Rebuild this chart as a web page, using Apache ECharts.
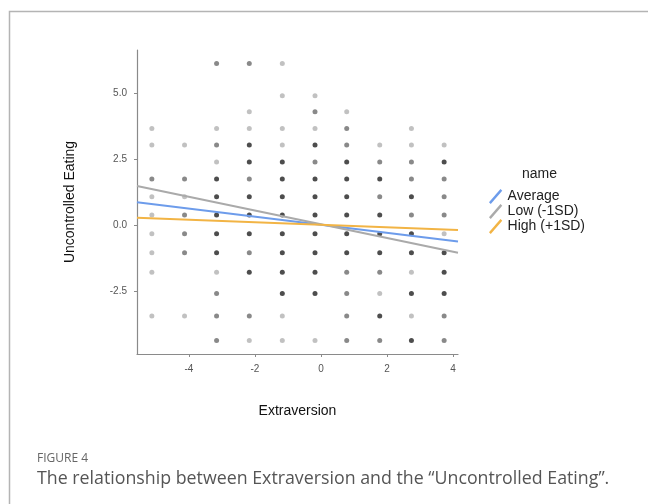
<!DOCTYPE html>
<html><head><meta charset="utf-8">
<script src="https://cdn.jsdelivr.net/npm/echarts@6/dist/echarts.min.js"></script>
<style>html,body{margin:0;padding:0;background:#fff}#c{width:648px;height:504px}</style>
</head><body><div id="c"></div>
<script>
// Extraversion values of the point columns
const colX = [-5.12, -4.13, -3.16, -2.17, -1.17, -0.18, 0.78, 1.78, 2.74, 3.73];
// Uncontrolled Eating values of the point rows (top to bottom)
const rowY = [6.12, 4.90, 4.29, 3.66, 3.03, 2.39, 1.74, 1.07, 0.38, -0.33, -1.05, -1.79, -2.60, -3.45, -4.38];
// overlap level of each point (0 = none, 1 light, 2 medium, 3 dark), rows x columns
const counts = [
  [0,0,2,2,1,0,0,0,0,0],
  [0,0,0,0,1,1,0,0,0,0],
  [0,0,0,1,0,2,1,0,0,0],
  [1,0,1,1,1,1,2,0,1,0],
  [1,1,2,3,1,3,2,1,1,1],
  [0,0,1,3,3,2,3,2,2,3],
  [2,2,3,2,3,3,3,3,2,2],
  [1,1,3,3,3,3,3,2,3,2],
  [1,2,3,3,3,3,3,3,2,2],
  [1,2,3,3,3,3,3,3,3,1],
  [1,2,3,2,3,3,3,3,3,3],
  [1,0,1,3,3,3,2,2,1,3],
  [0,0,2,0,3,3,2,1,3,3],
  [1,1,2,2,1,0,2,3,1,2],
  [0,0,2,1,1,1,2,2,3,2]
];
// regression lines
const lineX = [-5.57, 4.15];
const avgY = [0.86, -0.63];
const lowY = [1.48, -1.05];
const highY = [0.27, -0.19];
const seriesNames = ['Average', 'Low (-1SD)', 'High (+1SD)'];
const xTicks = [-4, -2, 0, 2, 4];
const yTicks = [-2.5, 0, 2.5, 5];

const pts = [];
counts.forEach((row, i) => row.forEach((c, j) => { if (c > 0) pts.push([colX[j], rowY[i], c]); }));
const alpha = {1: 0.3, 2: 0.58, 3: 0.87};
const mk = (ys) => lineX.map((x, k) => [x, ys[k]]);

const chart = echarts.init(document.getElementById('c'));
const axisCol = '#8a8a8a';
const font = '"Liberation Sans", Arial, sans-serif';
const colors = ['#6d9ceb', '#aaaaaa', '#f2b445'];
const diag = 'path://M0,15 L13,0 L15,2 L2,17 Z';
chart.setOption({
  animation: false,
  backgroundColor: '#fff',
  grid: {left: 137, right: 190, top: 50, bottom: 150, containLabel: false},
  xAxis: {
    type: 'value', min: -5.57, max: 4.15,
    name: 'Extraversion', nameLocation: 'middle', nameGap: 50,
    nameTextStyle: {fontFamily: font, fontSize: 14, color: '#111'},
    axisLine: {show: true, onZero: false, lineStyle: {color: axisCol, width: 1.2}},
    axisTick: {show: true, length: 3, lineStyle: {color: axisCol}, customValues: xTicks},
    axisLabel: {customValues: xTicks, fontFamily: font, fontSize: 10, color: '#555', margin: 10},
    splitLine: {show: false}
  },
  yAxis: {
    type: 'value', min: -4.89, max: 6.63,
    name: 'Uncontrolled Eating', nameLocation: 'middle', nameGap: 60,
    nameTextStyle: {fontFamily: font, fontSize: 14, color: '#111'},
    axisLine: {show: true, onZero: false, lineStyle: {color: axisCol, width: 1.2}},
    axisTick: {show: true, length: 3, lineStyle: {color: axisCol}, customValues: yTicks},
    axisLabel: {customValues: yTicks, fontFamily: font, fontSize: 10, color: '#555', margin: 10,
      formatter: v => v.toFixed(1)},
    splitLine: {show: false}
  },
  legend: {
    orient: 'vertical', left: 484, top: 184, itemWidth: 18, itemHeight: 15, itemGap: 0,
    data: seriesNames.map(n => ({name: n, icon: diag})),
    textStyle: {fontFamily: font, fontSize: 14, color: '#222', padding: [0,0,0,-2]}
  },
  graphic: [
    {type: 'rect', shape: {x: 9.5, y: 11.5, width: 700, height: 600}, style: {fill: 'none', stroke: '#b4b4b4', lineWidth: 1.5}, silent: true},
    {type: 'text', left: 522, top: 167, style: {text: 'name', font: '14px "Liberation Sans", Arial, sans-serif', fill: '#222'}},
    {type: 'text', left: 37, top: 453, style: {text: 'FIGURE 4', font: '12px "Open Sans", sans-serif', fill: '#666'}},
    {type: 'text', left: 37, top: 470, style: {text: 'The relationship between Extraversion and the \u201cUncontrolled Eating\u201d.', font: '17.8px "Open Sans", sans-serif', fill: '#555'}}
  ],
  series: [
    {type: 'scatter', name: 'points', data: pts, symbolSize: 5, z: 2,
      itemStyle: {color: p => 'rgba(0,0,0,' + alpha[p.data[2]] + ')'}},
    {type: 'line', name: seriesNames[0], data: mk(avgY), symbol: 'none', z: 3, color: colors[0], lineStyle: {width: 2, color: colors[0]}},
    {type: 'line', name: seriesNames[1], data: mk(lowY), symbol: 'none', z: 3, color: colors[1], lineStyle: {width: 2, color: colors[1]}},
    {type: 'line', name: seriesNames[2], data: mk(highY), symbol: 'none', z: 3, color: colors[2], lineStyle: {width: 2, color: colors[2]}}
  ]
});
</script></body></html>
